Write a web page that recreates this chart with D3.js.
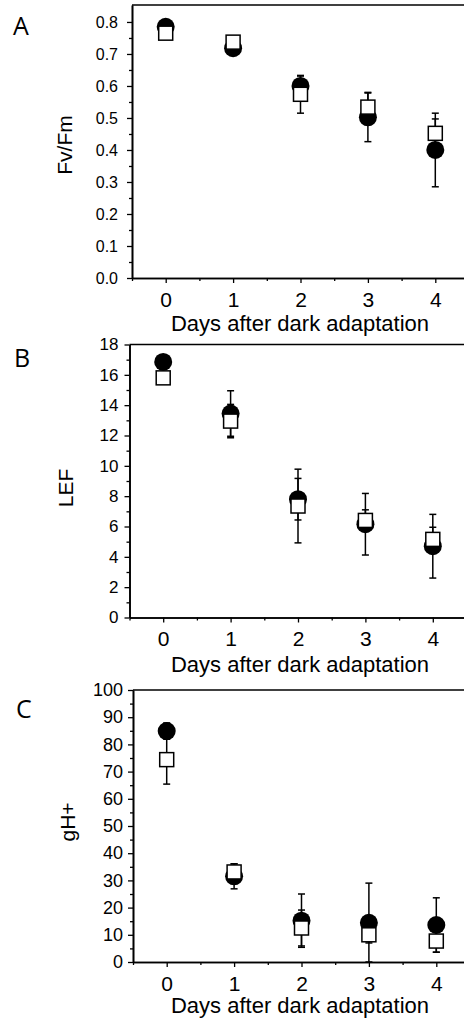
<meta charset='utf-8'>
<script src="https://d3js.org/d3.v7.min.js"></script>
<body style="margin:0;background:#fff"></body>
<script>

// DATA
var days = [0, 1, 2, 3, 4];
var xMinor = [-0.5, 0.5, 1.5, 2.5, 3.5];

// filled circles
var fvfmFilled = [0.785, 0.718, 0.600, 0.502, 0.400];
var fvfmFilledErr = [0.008, 0.008, 0.031, 0.076, 0.115];
// open squares
var fvfmOpen = [0.765, 0.737, 0.574, 0.534, 0.452];
var fvfmOpenErr = [0.008, 0.008, 0.059, 0.046, 0.045];
var fvfmTicks = [0.0, 0.1, 0.2, 0.3, 0.4, 0.5, 0.6, 0.7, 0.8];
var fvfmMinor = [0.05, 0.15, 0.25, 0.35, 0.45, 0.55, 0.65, 0.75];

var lefFilled = [16.85, 13.45, 7.8, 6.15, 4.7];
var lefFilledErr = [0.3, 1.5, 1.37, 2.03, 2.1];
var lefOpen = [15.8, 12.95, 7.35, 6.4, 5.15];
var lefOpenErr = [0.3, 1.1, 2.43, 0.7, 0.8];
var lefTicks = [0, 2, 4, 6, 8, 10, 12, 14, 16, 18];
var lefMinor = [1, 3, 5, 7, 9, 11, 13, 15, 17];

var ghFilled = [84.9, 31.5, 15.2, 14.4, 13.6];
var ghFilledErr = [3, 4.6, 9.8, 14.6, 10];
var ghOpen = [74.4, 33.1, 12.5, 10, 7.7];
var ghOpenErr = [9, 3, 6.6, 3, 4.1];
var ghTicks = [0, 10, 20, 30, 40, 50, 60, 70, 80, 90, 100];
var ghMinor = [5, 15, 25, 35, 45, 55, 65, 75, 85, 95];

var xTitle = 'Days after dark adaptation';

// SETUP
var ww = 464;
var wh = 1020;
var svg = d3.select('body').append('svg')
    .attr('width', ww)
    .attr('height', wh);

var panels = [
    {letter: 'A', ylabel: 'Fv/Fm', left: 132, top: 5, bottom: 278, ymax: 0.853,
     ticks: fvfmTicks, minor: fvfmMinor, fmt: d3.format('.1f'), yfont: 16, ypad: 9,
     filled: fvfmFilled, filledErr: fvfmFilledErr, open: fvfmOpen, openErr: fvfmOpenErr,
     lx: 13, ly: 35, labx: 65, laby: 145, titley: 331},
    {letter: 'B', ylabel: 'LEF', left: 129.5, top: 344.5, bottom: 617.5, ymax: 18,
     ticks: lefTicks, minor: lefMinor, fmt: d3.format('d'), yfont: 17, ypad: 6,
     filled: lefFilled, filledErr: lefFilledErr, open: lefOpen, openErr: lefOpenErr,
     lx: 14, ly: 367, labx: 66, laby: 488, titley: 672},
    {letter: 'C', ylabel: 'gH+', left: 133, top: 690, bottom: 962, ymax: 100,
     ticks: ghTicks, minor: ghMinor, fmt: d3.format('d'), yfont: 18, ypad: 5,
     filled: ghFilled, filledErr: ghFilledErr, open: ghOpen, openErr: ghOpenErr,
     lx: 16, ly: 718, labx: 68, laby: 822, titley: 1013}
];

panels.forEach(drawPanel);

// DRAW ONE PANEL
function drawPanel(p) {
    var g = svg.append('g');
    var x = d3.scaleLinear().domain([-0.5, 4.5]).range([p.left, p.left + 337]);
    var y = d3.scaleLinear().domain([0, p.ymax]).range([p.bottom, p.top]);

    // frame top
    g.append('line')
        .attr('x1', x(-0.5)).attr('x2', x(4.5))
        .attr('y1', y(p.ymax)).attr('y2', y(p.ymax))
        .attr('stroke', '#000').attr('stroke-width', 1.6);

    // y axis
    var ya = g.append('g')
        .attr('transform', 'translate(' + x(-0.5) + ',0)')
        .call(d3.axisLeft(y).tickValues(p.ticks).tickFormat(p.fmt)
            .tickSize(5).tickSizeOuter(0).tickPadding(p.ypad));
    ya.append('g').call(d3.axisLeft(y).tickValues(p.minor).tickFormat('')
        .tickSize(3).tickSizeOuter(0));
    ya.attr('font-family', 'Liberation Sans, Arial, sans-serif').attr('font-size', p.yfont);

    // x axis
    var xa = g.append('g')
        .attr('transform', 'translate(0,' + y(0) + ')')
        .call(d3.axisBottom(x).tickValues(days).tickFormat(d3.format('d'))
            .tickSize(5).tickSizeOuter(0).tickPadding(9));
    xa.append('g').call(d3.axisBottom(x).tickValues(xMinor).tickFormat('')
        .tickSize(3).tickSizeOuter(0));
    xa.attr('font-family', 'Liberation Sans, Arial, sans-serif').attr('font-size', 21);

    g.selectAll('.domain').attr('stroke-width', 1.6);
    g.selectAll('.tick line').attr('stroke-width', 1.3);
    g.selectAll('.tick text').attr('fill', '#000');

    // titles
    g.append('text')
        .attr('x', 300).attr('y', p.titley)
        .attr('text-anchor', 'middle')
        .attr('font-family', 'Liberation Sans, Arial, sans-serif')
        .attr('font-size', 22)
        .attr('fill', '#000')
        .text(xTitle);
    g.append('text')
        .attr('transform', 'translate(' + p.labx + ',' + p.laby + ') rotate(-90)')
        .attr('dy', '0.35em')
        .attr('text-anchor', 'middle')
        .attr('font-family', 'Liberation Sans, Arial, sans-serif')
        .attr('font-size', 21)
        .attr('fill', '#000')
        .text(p.ylabel);
    g.append('text')
        .attr('x', p.lx).attr('y', p.ly)
        .attr('font-family', 'Open Sans, sans-serif')
        .attr('font-size', 25)
        .attr('fill', '#000')
        .text(p.letter);

    // filled circles with error bars
    errbars(g, x, y, p.filled, p.filledErr);
    g.selectAll('circle.filled').data(days).enter().append('circle')
        .attr('class', 'filled')
        .attr('cx', function (d) { return x(d); })
        .attr('cy', function (d, i) { return y(p.filled[i]); })
        .attr('r', 9)
        .attr('fill', '#000');

    // open squares with error bars
    errbars(g, x, y, p.open, p.openErr);
    g.selectAll('rect.open').data(days).enter().append('rect')
        .attr('class', 'open')
        .attr('x', function (d) { return x(d) - 7; })
        .attr('y', function (d, i) { return y(p.open[i]) - 7; })
        .attr('width', 14).attr('height', 14)
        .attr('fill', '#fff')
        .attr('stroke', '#000')
        .attr('stroke-width', 1.5);
}

function errbars(g, x, y, vals, errs) {
    var eb = g.append('g').attr('stroke', '#000').attr('stroke-width', 1.5);
    days.forEach(function (d, i) {
        var lo = Math.max(0, vals[i] - errs[i]);
        var hi = vals[i] + errs[i];
        eb.append('line')
            .attr('x1', x(d)).attr('x2', x(d))
            .attr('y1', y(lo)).attr('y2', y(hi));
        [lo, hi].forEach(function (v) {
            eb.append('line')
                .attr('x1', x(d) - 3.5).attr('x2', x(d) + 3.5)
                .attr('y1', y(v)).attr('y2', y(v));
        });
    });
}

</script>
